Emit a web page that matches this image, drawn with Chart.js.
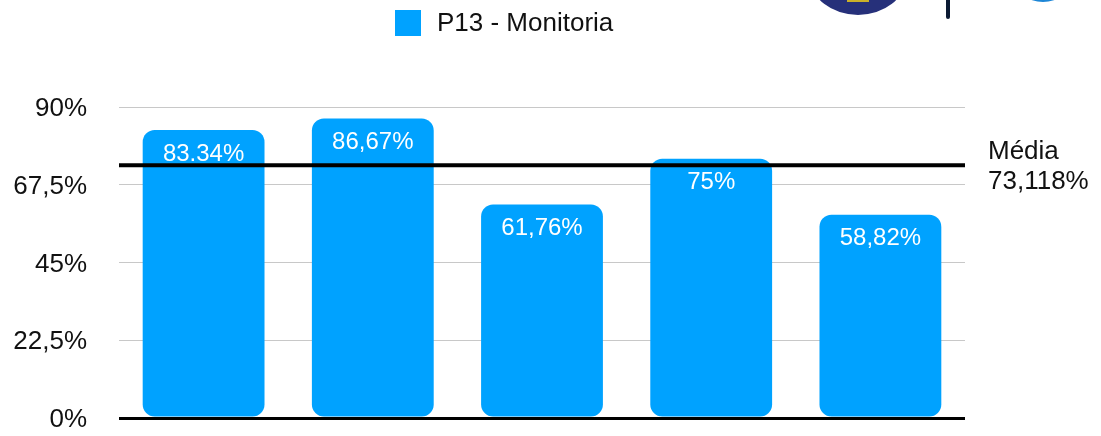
<!DOCTYPE html>
<html>
<head>
<meta charset="utf-8">
<script src="https://cdn.jsdelivr.net/npm/chart.js@4"></script>
<style>
  html, body { margin: 0; padding: 0; background: #fff; }
  #wrap { width: 1101px; height: 436px; }
</style>
</head>
<body>
<div id="wrap"><canvas id="myChart" width="1101" height="436"></canvas></div>
<script>
// Chart data
var categories = ['1', '2', '3', '4', '5'];
var values = [83.34, 86.67, 61.76, 75, 58.82];
var valueLabels = ['83.34%', '86,67%', '61,76%', '75%', '58,82%'];
var yTicks = [0, 22.5, 45, 67.5, 90];
var yTickLabels = ['0%', '22,5%', '45%', '67,5%', '90%'];
var seriesName = 'P13 - Monitoria';
var mean = 73.118;
var meanLabel = ['Média', '73,118%'];

var barColor = '#00A2FF';
var fontFamily = '"Liberation Sans", Arial, Helvetica, sans-serif';

// Logos cut off at the top right of the slide
const logoPlugin = {
    id: 'logoPlugin',
    beforeDraw(chart) {
        const ctx = chart.ctx;
        ctx.save();
        ctx.fillStyle = '#26307a';
        ctx.beginPath();
        ctx.ellipse(858, -23, 48, 38, 0, 0, 2 * Math.PI);
        ctx.fill();
        ctx.fillStyle = '#c9b02a';
        ctx.fillRect(847, 0, 22, 2);
        ctx.strokeStyle = '#0b1a33';
        ctx.lineWidth = 4;
        ctx.lineCap = 'round';
        ctx.beginPath();
        ctx.moveTo(948, 0);
        ctx.lineTo(948, 17);
        ctx.stroke();
        ctx.fillStyle = '#1d86d6';
        ctx.beginPath();
        ctx.ellipse(1043, -21, 28, 23, 0, 0, 2 * Math.PI);
        ctx.fill();
        ctx.restore();
    }
};

// Legend, value labels and the mean line
const annotatePlugin = {
    id: 'annotatePlugin',
    afterDatasetsDraw(chart) {
        const ctx = chart.ctx;
        const area = chart.chartArea;
        const meta = chart.getDatasetMeta(0);
        const yScale = chart.scales.y;
        ctx.save();

        // legend
        ctx.fillStyle = barColor;
        ctx.fillRect(395, 10, 26, 26);
        ctx.fillStyle = '#111';
        ctx.font = '26px ' + fontFamily;
        ctx.textAlign = 'left';
        ctx.textBaseline = 'middle';
        ctx.fillText(seriesName, 437, 24);

        // value labels inside bars
        ctx.fillStyle = '#fff';
        ctx.font = '24px ' + fontFamily;
        ctx.textAlign = 'center';
        meta.data.forEach(function (bar, i) {
            ctx.fillText(valueLabels[i], bar.x, bar.y + 24);
        });

        // mean line
        const y = yScale.getPixelForValue(mean);
        ctx.strokeStyle = '#000';
        ctx.lineWidth = 4;
        ctx.beginPath();
        ctx.moveTo(area.left, y);
        ctx.lineTo(area.right, y);
        ctx.stroke();

        ctx.fillStyle = '#111';
        ctx.font = '26px ' + fontFamily;
        ctx.textAlign = 'left';
        ctx.fillText(meanLabel[0], 988, y - 14);
        ctx.fillText(meanLabel[1], 988, y + 16);
        ctx.restore();
    }
};

var ctx = document.getElementById('myChart').getContext('2d');

var myChart = new Chart(ctx, {
    type: 'bar',
    data: {
        labels: categories,
        datasets: [{
            label: seriesName,
            data: values,
            backgroundColor: barColor,
            borderRadius: 12,
            borderSkipped: false,
            barPercentage: 0.72,
            categoryPercentage: 1
        }]
    },
    options: {
        responsive: false,
        animation: false,
        layout: {
            padding: { top: 107, bottom: 18, left: 0, right: 136 }
        },
        scales: {
            x: {
                display: false
            },
            y: {
                min: 0,
                max: 90,
                afterFit: function (scale) { scale.width = 119; },
                afterBuildTicks: function (scale) {
                    scale.ticks = yTicks.map(function (v) { return { value: v }; });
                },
                border: { display: false },
                grid: {
                    drawTicks: true,
                    tickLength: 32,
                    tickColor: 'rgba(0,0,0,0)',
                    color: function (c) { return c.tick && c.tick.value === 0 ? '#000' : '#c8c8c8'; },
                    lineWidth: function (c) { return c.tick && c.tick.value === 0 ? 3 : 1; }
                },
                ticks: {
                    padding: 0,
                    labelOffset: 2,
                    color: '#111',
                    font: { size: 26, family: fontFamily },
                    callback: function (value, index) { return yTickLabels[index]; }
                }
            }
        },
        plugins: {
            legend: { display: false },
            tooltip: { enabled: false }
        }
    },
    plugins: [logoPlugin, annotatePlugin]
});
</script>
</body>
</html>
